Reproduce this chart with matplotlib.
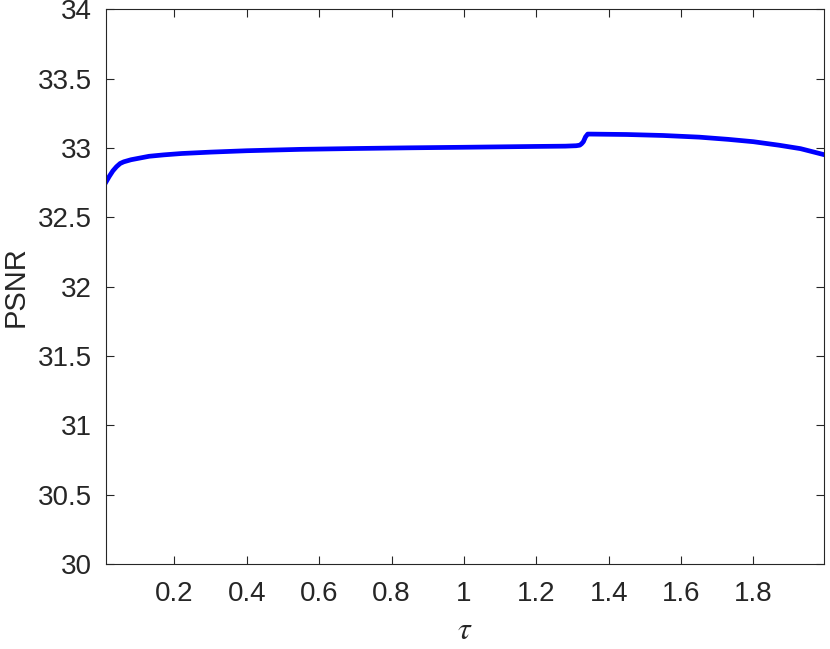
import matplotlib.pyplot as plt
import numpy as np

plt.rcParams['font.family'] = ['Liberation Sans', 'DejaVu Sans']
plt.rcParams['mathtext.fontset'] = 'stix'

# PSNR versus tau
tau = [0.01, 0.02, 0.03, 0.04, 0.05, 0.06, 0.08, 0.10, 0.13, 0.17, 0.22,
       0.30, 0.40, 0.55, 0.70, 0.85, 1.00, 1.10, 1.20, 1.28, 1.31, 1.32,
       1.325, 1.33, 1.336, 1.342, 1.35, 1.45, 1.55, 1.65, 1.73, 1.80,
       1.87, 1.93, 1.99]
psnr = [32.75, 32.795, 32.835, 32.865, 32.888, 32.90, 32.915, 32.925,
        32.94, 32.95, 32.96, 32.97, 32.98, 32.99, 32.996, 33.001, 33.005,
        33.008, 33.011, 33.013, 33.016, 33.02, 33.03, 33.045, 33.08, 33.10,
        33.10, 33.097, 33.09, 33.078, 33.062, 33.045, 33.02, 32.995, 32.955]

yticks = [30, 30.5, 31, 31.5, 32, 32.5, 33, 33.5, 34]
xticks = [0.2, 0.4, 0.6, 0.8, 1, 1.2, 1.4, 1.6, 1.8]

fig = plt.figure(figsize=(8.3, 6.49), dpi=100)
ax = fig.add_axes([0.1273, 0.131, 0.8655, 0.8547])

ax.plot(tau, psnr, color='#0000ff', linewidth=3.4)

ax.set_xlim(0.01, 1.995)
ax.set_ylim(30, 34)
ax.set_xticks(xticks)
ax.set_xticklabels(['%g' % t for t in xticks])
ax.set_yticks(yticks)
ax.set_yticklabels(['%g' % t for t in yticks])

gray = '#262626'
for s in ax.spines.values():
    s.set_color(gray)
    s.set_linewidth(0.8)
ax.tick_params(direction='in', length=6, width=0.8, colors=gray,
               labelsize=20, top=True, right=True)
ax.tick_params(axis='x', pad=12)
ax.tick_params(axis='y', pad=10)

ax.set_xlabel(r'$\tau$', fontsize=23, color=gray, labelpad=7)
ax.set_ylabel('PSNR', fontsize=21, color=gray, labelpad=6)

fig.savefig('out.png', dpi=100)
